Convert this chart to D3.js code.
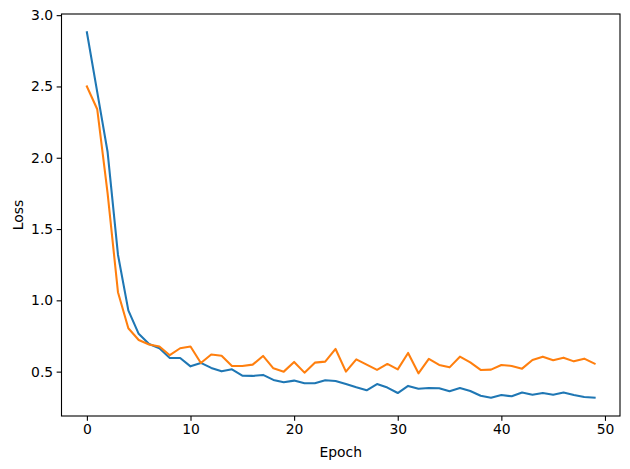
<!DOCTYPE html>
<html>
<head>
<meta charset="utf-8">
<script src="https://cdn.jsdelivr.net/npm/d3@7"></script>
<style>
  body { margin: 0; background: #fff; }
  svg text { font-family: "DejaVu Sans", sans-serif; fill: #000; }
</style>
</head>
<body>
<div id="chart"></div>
<script>
// Loss per epoch
const epochs = d3.range(0, 50);
const trainLoss = [
  2.88, 2.46, 2.04, 1.32, 0.93, 0.765, 0.694, 0.664, 0.596, 0.596,
  0.537, 0.561, 0.526, 0.502, 0.516, 0.472, 0.47, 0.477, 0.442, 0.425,
  0.437, 0.418, 0.418, 0.439, 0.434, 0.413, 0.39, 0.369, 0.413, 0.388,
  0.35, 0.40, 0.38, 0.385, 0.383, 0.362, 0.385, 0.364, 0.331, 0.317,
  0.336, 0.327, 0.353, 0.338, 0.35, 0.338, 0.353, 0.336, 0.322, 0.317
];
const valLoss = [
  2.50, 2.34, 1.75, 1.057, 0.804, 0.722, 0.69, 0.676, 0.615, 0.664,
  0.676, 0.561, 0.62, 0.612, 0.54, 0.54, 0.549, 0.61, 0.523, 0.50,
  0.568, 0.493, 0.563, 0.57, 0.659, 0.50, 0.586, 0.549, 0.512, 0.554,
  0.516, 0.631, 0.488, 0.589, 0.547, 0.53, 0.605, 0.565, 0.512, 0.514,
  0.547, 0.54, 0.521, 0.582, 0.605, 0.58, 0.598, 0.572, 0.591, 0.556
];
const xTicks = [0, 10, 20, 30, 40, 50];
const yTicks = [0.5, 1.0, 1.5, 2.0, 2.5, 3.0];

const W = 630, H = 469;
const margin = { top: 14, right: 10, bottom: 53, left: 61.5 };
const width = W - margin.left - margin.right;
const height = H - margin.top - margin.bottom;

// matplotlib-like 5% padding on data limits
const xPad = (d3.max(epochs) - d3.min(epochs)) * 0.05;
const allY = trainLoss.concat(valLoss);
const yMin = d3.min(allY), yMax = d3.max(allY);
const yPad = (yMax - yMin) * 0.05;

const x = d3.scaleLinear()
  .domain([d3.min(epochs) - xPad, d3.max(epochs) + xPad])
  .range([0, width]);
const y = d3.scaleLinear()
  .domain([yMin - yPad, yMax + yPad])
  .range([height, 0]);

const svg = d3.select("#chart").append("svg")
  .attr("width", W)
  .attr("height", H);

const g = svg.append("g")
  .attr("transform", `translate(${margin.left},${margin.top})`);

const line = d3.line()
  .x((d, i) => x(epochs[i]))
  .y(d => y(d));

// clip lines to the axes box
g.append("clipPath").attr("id", "clip")
  .append("rect").attr("width", width).attr("height", height);

g.append("path")
  .datum(trainLoss)
  .attr("clip-path", "url(#clip)")
  .attr("d", line)
  .attr("fill", "none")
  .attr("stroke", "#1f77b4")
  .attr("stroke-width", 2.08)
  .attr("stroke-linejoin", "round")
  .attr("stroke-linecap", "square");

g.append("path")
  .datum(valLoss)
  .attr("clip-path", "url(#clip)")
  .attr("d", line)
  .attr("fill", "none")
  .attr("stroke", "#ff7f0e")
  .attr("stroke-width", 2.08)
  .attr("stroke-linejoin", "round")
  .attr("stroke-linecap", "square");

// Axes
const xAxis = g.append("g")
  .attr("transform", `translate(0,${height})`)
  .call(d3.axisBottom(x).tickValues(xTicks).tickFormat(d3.format("d"))
    .tickSize(4.86).tickPadding(3.5));

const yAxis = g.append("g")
  .call(d3.axisLeft(y).tickValues(yTicks).tickFormat(d3.format(".1f"))
    .tickSize(4.86).tickPadding(3.5));

[xAxis, yAxis].forEach(a => {
  a.select(".domain").remove();
  a.selectAll(".tick line").attr("stroke", "#000").attr("stroke-width", 1.1);
  a.selectAll(".tick text")
    .attr("font-size", "13.9px")
    .attr("font-family", "DejaVu Sans, sans-serif");
});

// frame
g.append("rect")
  .attr("width", width)
  .attr("height", height)
  .attr("fill", "none")
  .attr("stroke", "#000")
  .attr("stroke-width", 1.1);

// Axis labels
g.append("text")
  .attr("x", width / 2)
  .attr("y", height + 41)
  .attr("text-anchor", "middle")
  .attr("font-size", "13.9px")
  .text("Epoch");

g.append("text")
  .attr("transform", "rotate(-90)")
  .attr("x", -height / 2)
  .attr("y", -39)
  .attr("text-anchor", "middle")
  .attr("font-size", "13.9px")
  .text("Loss");
</script>
</body>
</html>
